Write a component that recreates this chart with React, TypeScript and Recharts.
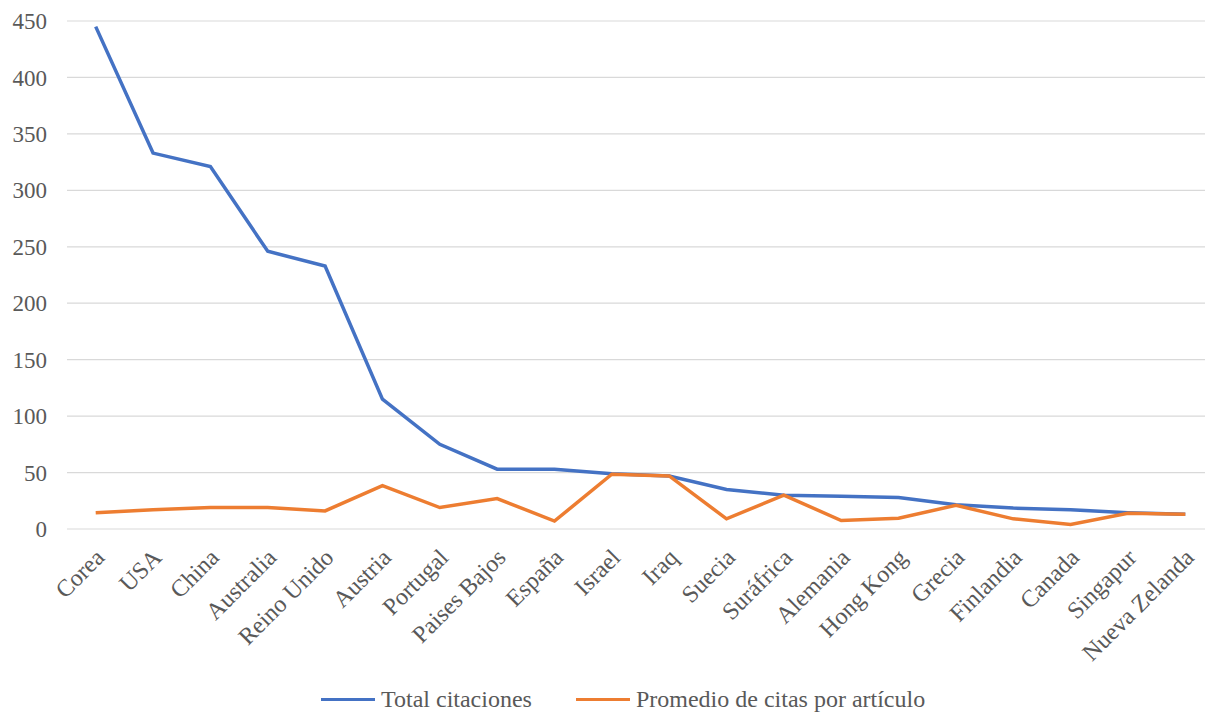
import React from "react";
import { CartesianGrid, Line, LineChart, XAxis, YAxis } from "recharts";

// paises, en el orden del eje
const paises = [
  "Corea", "USA", "China", "Australia", "Reino Unido", "Austria", "Portugal",
  "Paises Bajos", "España", "Israel", "Iraq", "Suecia", "Suráfrica", "Alemania",
  "Hong Kong", "Grecia", "Finlandia", "Canada", "Singapur", "Nueva Zelanda",
];

const totalCitaciones = [445, 333, 321, 246, 233, 115, 75, 53, 53, 49, 47, 35, 30, 29, 28, 21.5, 18.5, 17, 14.5, 13];
const promedioCitas = [14.5, 17, 19, 19, 16, 38.5, 19, 27, 7, 48.5, 47, 9, 30, 7.5, 9.5, 21, 9, 4, 14, 13];

const yTicks = [0, 50, 100, 150, 200, 250, 300, 350, 400, 450];

const data = paises.map((pais, i) => ({
  pais,
  total: totalCitaciones[i],
  promedio: promedioCitas[i],
}));

const FONT = '"Times New Roman", "Liberation Serif", serif';
const GREY = "#595959";
const BLUE = "#4472C4";
const ORANGE = "#ED7D31";

const XTick = ({ x, y, payload }: any) => {
  const px = x + 10;
  const py = y + 22;
  return (
    <text
      x={px}
      y={py}
      textAnchor="end"
      fill={GREY}
      fontSize={24}
      fontFamily={FONT}
      transform={`rotate(-45 ${px} ${py})`}
    >
      {payload.value}
    </text>
  );
};

const LegendItem = ({ color, label }: { color: string; label: string }) => (
  <div style={{ display: "flex", alignItems: "center" }}>
    <div style={{ width: 54, height: 3, background: color, marginRight: 6 }} />
    <span>{label}</span>
  </div>
);

export default function App() {
  return (
    <div
      style={{
        position: "fixed",
        left: 0,
        top: 0,
        width: 1205,
        height: 714,
        overflow: "hidden",
        background: "#fff",
      }}
    >
      <LineChart
        width={1215}
        height={714}
        data={data}
        margin={{ top: 21, right: 1, left: 0, bottom: 0 }}
      >
        <CartesianGrid vertical={false} stroke="#d9d9d9" strokeWidth={1.2} />
        <XAxis
          dataKey="pais"
          height={185}
          interval={0}
          axisLine={false}
          tickLine={false}
          padding={{ left: 28.7, right: 28.7 }}
          tick={<XTick />}
        />
        <YAxis
          width={67}
          domain={[0, 450]}
          ticks={yTicks}
          axisLine={false}
          tickLine={false}
          tickMargin={14}
          tick={{ fill: GREY, fontSize: 23, fontFamily: FONT }}
        />
        <Line
          type="linear"
          dataKey="total"
          name="Total citaciones"
          stroke={BLUE}
          strokeWidth={3.5}
          dot={false}
          isAnimationActive={false}
        />
        <Line
          type="linear"
          dataKey="promedio"
          name="Promedio de citas por artículo"
          stroke={ORANGE}
          strokeWidth={3.5}
          dot={false}
          isAnimationActive={false}
        />
      </LineChart>
      <div
        style={{
          position: "absolute",
          left: 321,
          top: 687,
          height: 24,
          lineHeight: "24px",
          display: "flex",
          alignItems: "center",
          gap: 44,
          fontFamily: FONT,
          fontSize: 24,
          color: GREY,
          whiteSpace: "nowrap",
        }}
      >
        <LegendItem color={BLUE} label="Total citaciones" />
        <LegendItem color={ORANGE} label="Promedio de citas por artículo" />
      </div>
    </div>
  );
}
